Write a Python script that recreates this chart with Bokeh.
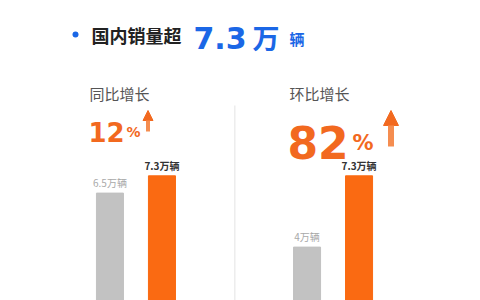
from bokeh.plotting import figure
from bokeh.models import FactorRange, Range1d, Label, BoxAnnotation, Arrow, NormalHead, ColumnDataSource
from bokeh.core.properties import value
from bokeh.embed import file_html
from bokeh.resources import INLINE

# ---- data ----
groups = ["同比增长", "同比增长", "环比增长", "环比增长"]
periods = ["去年同期", "本月", "上月", "本月"]
sales = [6.5, 7.3, 4.0, 7.3]              # 万辆
bar_labels = ["6.5万辆", "7.3万辆", "4万辆", "7.3万辆"]
bar_colors = ["#c2c2c2", "#fa6a12", "#c2c2c2", "#fa6a12"]
label_colors = ["#a9a9a9", "#333333", "#a9a9a9", "#333333"]
label_weights = ["normal", "bold", "normal", "bold"]
headline = "国内销量超"
headline_value = "7.3"
headline_unit = "万"
headline_unit2 = "辆"
yoy_title, yoy_value = "同比增长", "12"
mom_title, mom_value = "环比增长", "82"

CJK = "Noto Sans CJK SC"
NUM = "DejaVu Sans"
BLUE = "#1b67e6"
ORANGE = "#f2691f"

factors = list(zip(groups, periods))
src = ColumnDataSource(dict(x=factors, top=sales, lab=bar_labels, color=bar_colors,
                            lcolor=label_colors, lweight=label_weights))

xr = FactorRange(*factors, factor_padding=0.0, group_padding=1.79,
                 range_padding=1.605, range_padding_units="absolute")
p = figure(width=480, height=300, x_range=xr, y_range=Range1d(1.528, 15.417),
           output_backend="svg", toolbar_location=None,
           x_axis_location=None, y_axis_location=None)
p.min_border = 0
p.min_border_right = 12
p.outline_line_color = None
p.xgrid.visible = False
p.ygrid.visible = False
p.background_fill_color = "white"
p.border_fill_color = "white"

p.vbar(x="x", top="top", bottom=0, width=0.52, color="color", source=src)
p.text(x="x", y="top", text="lab", source=src, text_align="center", text_baseline="bottom",
       y_offset=-3, text_font=value(CJK), text_font_size="10px", text_color="lcolor",
       text_font_style="lweight")

# divider
p.add_layout(BoxAnnotation(left=233.6, right=235.0, bottom=0, top=195,
                           left_units="screen", right_units="screen",
                           bottom_units="screen", top_units="screen",
                           fill_color="#ebebeb", fill_alpha=1, line_color=None))
# blue bullet
p.add_layout(BoxAnnotation(left=72, right=78, bottom=263, top=269,
                           left_units="screen", right_units="screen",
                           bottom_units="screen", top_units="screen",
                           fill_color=BLUE, fill_alpha=1, line_color=None, border_radius=3))

def lab(x, y, text, size, color, font=CJK, style="normal", baseline="middle", align="left"):
    p.add_layout(Label(x=x, y=y, x_units="screen", y_units="screen", text=text,
                       text_font=font, text_font_size=size, text_color=color,
                       text_font_style=style, text_baseline=baseline, text_align=align))

lab(91, 266, headline, "18px", "#222222", style="bold")
lab(193, 263, headline_value, "30px", BLUE, font=NUM, style="bold", baseline="alphabetic")
lab(252, 263, headline_unit, "27px", BLUE, style="bold", baseline="alphabetic")
lab(289, 262, headline_unit2, "15px", BLUE, style="bold", baseline="alphabetic")

lab(89, 207, yoy_title, "15px", "#555555")
lab(88, 169, yoy_value, "26px", ORANGE, font=NUM, style="bold", baseline="alphabetic")
lab(126, 169, "%", "14px", ORANGE, font=NUM, style="bold", baseline="alphabetic")
p.add_layout(Arrow(x_start=147.5, y_start=169, x_end=147.5, y_end=190,
                   start_units="screen", end_units="screen",
                   line_color="#f58d50", line_width=4,
                   end=NormalHead(size=10, fill_color=ORANGE, line_color=ORANGE)))

lab(289, 207, mom_title, "15px", "#555555")
lab(287, 158, mom_value, "44px", ORANGE, font=NUM, style="bold", baseline="alphabetic")
lab(352, 158, "%", "21px", ORANGE, font=NUM, style="bold", baseline="alphabetic")
p.add_layout(Arrow(x_start=390.5, y_start=154, x_end=390.5, y_end=190,
                   start_units="screen", end_units="screen",
                   line_color="#f58d50", line_width=6,
                   end=NormalHead(size=15, fill_color=ORANGE, line_color=ORANGE)))

open("out.html", "w").write(file_html(p, INLINE))
